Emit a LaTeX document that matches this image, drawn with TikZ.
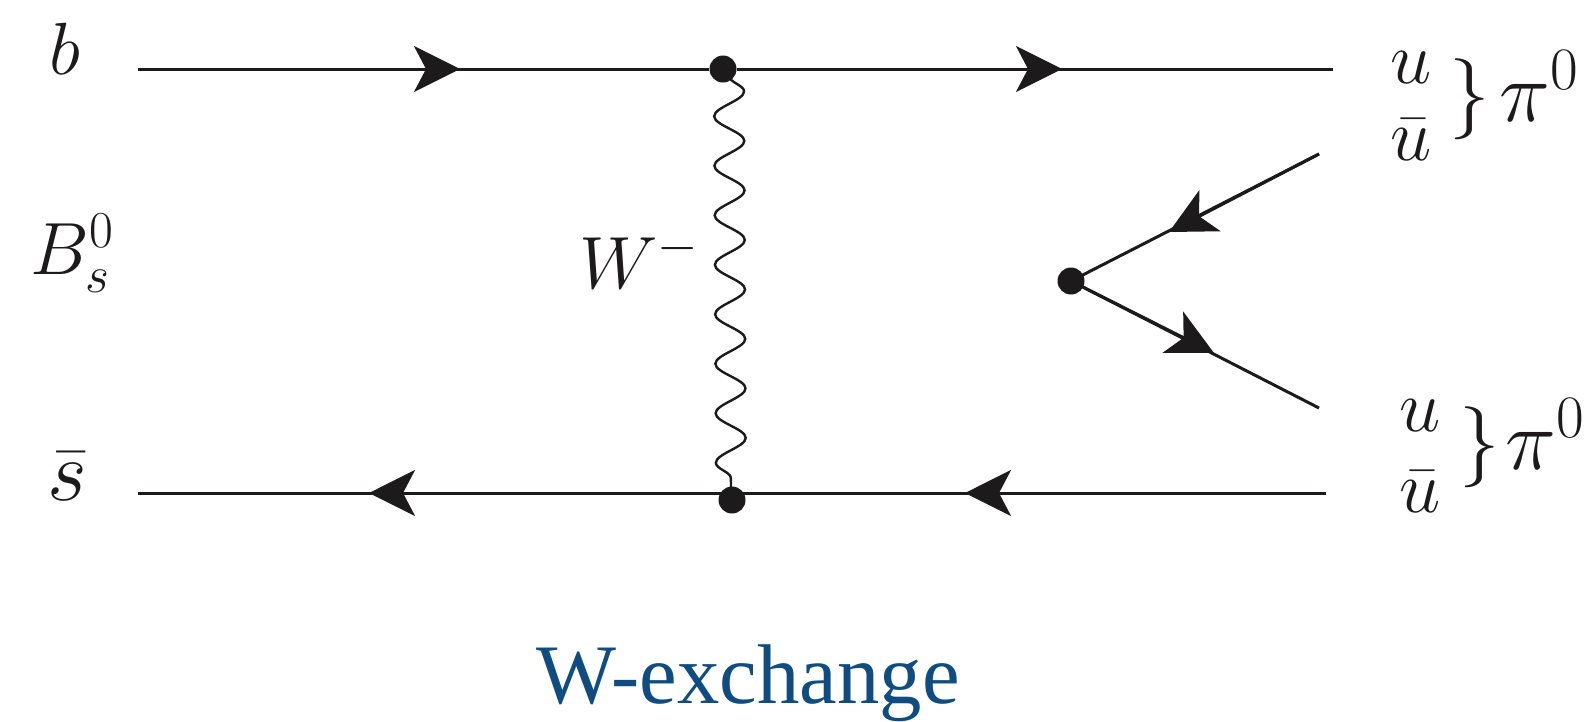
\RequirePackage{fix-cm}
\documentclass[tikz,border=0pt]{standalone}
\usepackage{fontspec}
\newfontfamily\capfont{Liberation Serif}
\usetikzlibrary{arrows.meta,decorations.pathmorphing}
\definecolor{capblue}{HTML}{0F4C81}
\definecolor{ink}{HTML}{1C1A1B}
\tikzset{
  fermion/.style={draw=ink,line width=3pt},
  headed/.style={fermion,-{Stealth[length=46pt,width=46pt,inset=12pt]}},
  dotnode/.style={circle,fill=ink,inner sep=0pt,minimum width=27pt},
  label/.style={inner sep=0pt,anchor=base,text=ink,font=\fontsize{74}{80}\selectfont},
  biglabel/.style={label,font=\fontsize{86}{90}\selectfont},
  bracelabel/.style={label,font=\fontsize{81}{85}\selectfont},
  wave/.style={draw=ink,line width=2.4pt,decorate,decoration={snake,segment length=49.5pt,amplitude=15pt}},
}
\begin{document}
\begin{tikzpicture}[x=1pt,y=-1pt]
\useasboundingbox[fill=white] (0,0) rectangle (1584,721);
% vertices
\node[dotnode] (top) at (723,69) {};
\node[dotnode] (bot) at (732,500) {};
\node[dotnode] (mid) at (1071,281) {};
% free ends
\coordinate (tl) at (138,69);
\coordinate (tr) at (1333,69);
\coordinate (bl) at (138,493);
\coordinate (br) at (1326,493);
\coordinate (ur) at (1319,154);
\coordinate (lr) at (1319,408);
\coordinate (a1) at (460,69);
\coordinate (a2) at (1062,69);
\coordinate (a3) at (369,493);
\coordinate (a4) at (965,493);
\coordinate (a5) at (1169,232);
\coordinate (a6) at (1214,353);
% wave
\coordinate (wt) at (729,76);
\coordinate (wb) at (731,494);
\draw[wave] (wt) -- (wb);
% fermion lines
\draw[fermion] (tl) -- (top) -- (tr);
\draw[fermion] (br) -- (bot.center |- br) -- (bl);
\draw[fermion] (ur) -- (mid.center) -- (lr);
\draw[headed] (tl) -- (a1);
\draw[headed] (top) -- (a2);
\draw[headed] (bot.center |- br) -- (a3);
\draw[headed] (br) -- (a4);
\draw[headed] (ur) -- (a5);
\draw[headed] (mid) -- (a6);
% labels
\node[label] (b) at (65,74) {$b$};
\node[label] (B) at (72,274) {$B_s^0$};
\node[biglabel] (s) at (67,500) {$\bar{s}$};
\node[label] (W) at (639,288) {$W^-$};
\node[label] (u1) at (1411,83) {$u$};
\node[label] (ub1) at (1411,160) {$\bar{u}$};
\node[bracelabel] (br1) at (1470,119) {$\}$};
\node[biglabel] (p1) at (1539,121) {$\pi^0$};
\node[label] (u2) at (1420,431) {$u$};
\node[label] (ub2) at (1420,512) {$\bar{u}$};
\node[bracelabel] (br2) at (1480,467) {$\}$};
\node[biglabel] (p2) at (1545,469) {$\pi^0$};
\node[inner sep=0pt,anchor=base,text=capblue,font=\capfont\fontsize{84.7}{90}\selectfont] (cap) at (748,703) {W-exchange};
\end{tikzpicture}
\end{document}
